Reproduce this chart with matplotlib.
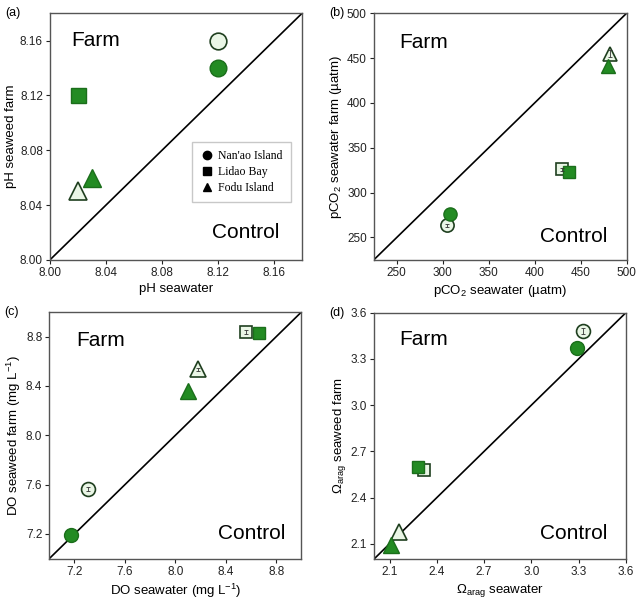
import matplotlib
matplotlib.use("Agg")
import matplotlib.pyplot as plt
from matplotlib.lines import Line2D

plt.rcParams['font.family'] = ['Liberation Sans', 'DejaVu Sans']
plt.rcParams['mathtext.fontset'] = 'custom'
plt.rcParams['mathtext.rm'] = 'Liberation Sans'
plt.rcParams['mathtext.it'] = 'Liberation Sans:italic'
plt.rcParams['mathtext.default'] = 'regular'

sites = ["Nan'ao Island", "Lidao Bay", "Fodu Island"]
site_markers = ['o', 's', '^']

# Panel (a) pH: control (seawater) x, farm y
ph_ctrl_filled_x = [8.12, 8.02, 8.03]
ph_farm_filled_y = [8.14, 8.12, 8.06]
ph_ctrl_open_x = [8.12, None, 8.02]
ph_farm_open_y = [8.16, None, 8.05]

# Panel (b) pCO2
pco2_filled_x = [307.6, 437.0, 479.7]
pco2_filled_y = [276.0, 323.0, 441.0]
pco2_open_x = [304.7, 429.7, 482.0]
pco2_open_y = [263.6, 326.0, 455.0]
pco2_open_err = [1.5, 2, 4]

# Panel (c) DO
do_filled_x = [7.17, 8.66, 8.10]
do_filled_y = [7.19, 8.83, 8.36]
do_open_x = [7.31, 8.56, 8.18]
do_open_y = [7.565, 8.84, 8.535]
do_open_err = [0.018, 0.018, 0.01]

# Panel (d) Omega arag
om_filled_x = [3.29, 2.28, 2.11]
om_filled_y = [3.37, 2.60, 2.09]
om_open_x = [3.33, 2.32, 2.16]
om_open_y = [3.48, 2.58, 2.18]
om_open_err = [0.02, 0.0, 0.0]

panels = [
    dict(label='(a)', lim=(8.00, 8.18), ticks=[8.00, 8.04, 8.08, 8.12, 8.16], fmt='{:.2f}',
         xlabel='pH seawater', ylabel='pH seaweed farm',
         fx=ph_ctrl_filled_x, fy=ph_farm_filled_y, ox=ph_ctrl_open_x, oy=ph_farm_open_y, oerr=None,
         ms=12, pos=[0.078, 0.569, 0.394, 0.409],
         farm=(0.085, 0.89), ctrl=(0.91, 0.11)),
    dict(label='(b)', lim=(225, 500), ticks=[250, 300, 350, 400, 450, 500], fmt='{:.0f}',
         xlabel='pCO$_2$ seawater (µatm)', ylabel='pCO$_2$ seawater farm (µatm)',
         fx=pco2_filled_x, fy=pco2_filled_y, ox=pco2_open_x, oy=pco2_open_y, oerr=pco2_open_err,
         ms=9.5, pos=[0.584, 0.569, 0.395, 0.409],
         farm=(0.10, 0.88), ctrl=(0.925, 0.095)),
    dict(label='(c)', lim=(7.0, 9.0), ticks=[7.2, 7.6, 8.0, 8.4, 8.8], fmt='{:.1f}',
         xlabel='DO seawater (mg L$^{-1}$)', ylabel='DO seaweed farm (mg L$^{-1}$)',
         fx=do_filled_x, fy=do_filled_y, ox=do_open_x, oy=do_open_y, oerr=do_open_err,
         ms=10, pos=[0.077, 0.0736, 0.394, 0.409],
         farm=(0.105, 0.884), ctrl=(0.935, 0.10)),
    dict(label='(d)', lim=(2.0, 3.6), ticks=[2.1, 2.4, 2.7, 3.0, 3.3, 3.6], fmt='{:.1f}',
         xlabel='$\\Omega_{arag}$ seawater', ylabel='$\\Omega_{arag}$ seaweed farm',
         fx=om_filled_x, fy=om_filled_y, ox=om_open_x, oy=om_open_y, oerr=om_open_err,
         ms=10, pos=[0.584, 0.0725, 0.394, 0.409],
         farm=(0.10, 0.89), ctrl=(0.925, 0.103)),
]

fill_green = '#238b23'
edge_green = '#1b6e1b'
open_fill = '#eaf6e6'
open_edge = '#1f3f1f'

fig = plt.figure(figsize=(6.4, 6.03), dpi=100)

for p in panels:
    ax = fig.add_axes(p['pos'])
    lo, hi = p['lim']
    ax.set_xlim(lo, hi)
    ax.set_ylim(lo, hi)
    ax.plot([lo, hi], [lo, hi], color='black', lw=1.2, zorder=1)
    for i, m in enumerate(site_markers):
        ms = p['ms'] * (1.1 if m == '^' else (0.9 if m == 's' else 1.0))
        if p['ox'][i] is not None:
            ax.plot(p['ox'][i], p['oy'][i], marker=m, ms=ms, mfc=open_fill, mec=open_edge,
                    mew=1.2, ls='none', zorder=3)
            if p['oerr'] is not None and p['oerr'][i] > 0:
                ax.errorbar(p['ox'][i], p['oy'][i], yerr=p['oerr'][i], fmt='none',
                            ecolor='#333333', elinewidth=0.6, capsize=1.2, capthick=0.6, zorder=4)
        ax.plot(p['fx'][i], p['fy'][i], marker=m, ms=ms, mfc=fill_green, mec=edge_green,
                mew=1.0, ls='none', zorder=3)
    ax.set_xticks(p['ticks'])
    ax.set_yticks(p['ticks'])
    ax.set_xticklabels([p['fmt'].format(t) for t in p['ticks']])
    ax.set_yticklabels([p['fmt'].format(t) for t in p['ticks']])
    ax.tick_params(direction='out', length=3, width=0.8, labelsize=8.5, colors='#222222', pad=2)
    for s in ax.spines.values():
        s.set_color('#555555')
        s.set_linewidth(1.0)
    ax.set_xlabel(p['xlabel'], fontsize=9.5, labelpad=3)
    ax.set_ylabel(p['ylabel'], fontsize=9.5, labelpad=2)
    ax.text(p['farm'][0], p['farm'][1], 'Farm', transform=ax.transAxes, fontsize=15,
            ha='left', va='center')
    ax.text(p['ctrl'][0], p['ctrl'][1], 'Control', transform=ax.transAxes, fontsize=15,
            ha='right', va='center')
    fig.text(p['pos'][0] - 0.07, p['pos'][1] + p['pos'][3], p['label'], fontsize=9,
             ha='left', va='center')
    if p['label'] == '(a)':
        handles = [Line2D([], [], marker=m, color='black', ls='none', ms=6 if m != 's' else 5.5)
                   for m in site_markers]
        ax.legend(handles, sites, loc='upper left', bbox_to_anchor=(0.565, 0.48),
                  prop={'family': 'Liberation Serif', 'size': 8.5}, frameon=True,
                  fancybox=False, edgecolor='#bbbbbb', handlelength=1.0, handletextpad=0.5,
                  borderpad=0.7, labelspacing=0.35, borderaxespad=0)

fig.savefig('out.png', dpi=100)
